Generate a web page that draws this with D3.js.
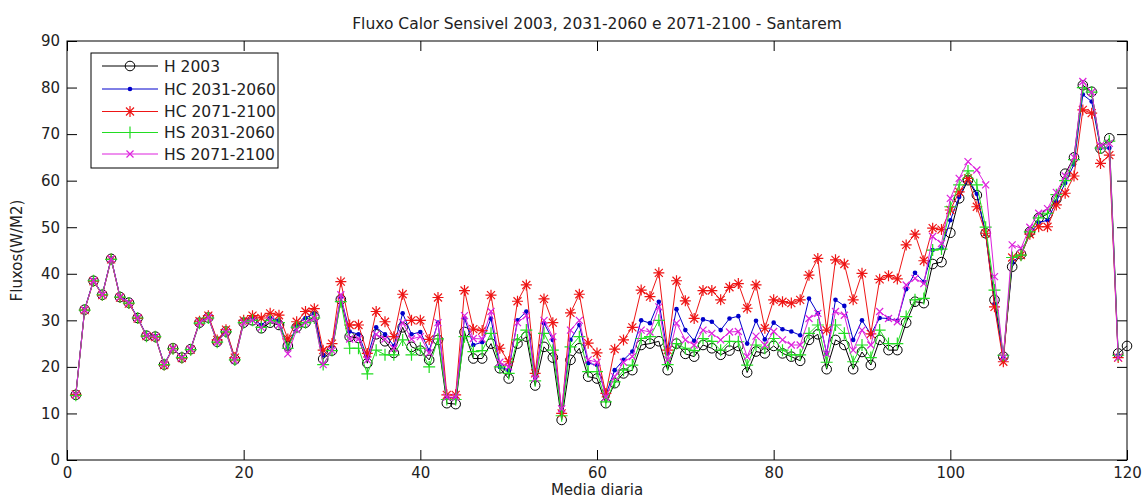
<!DOCTYPE HTML>
<html>
  <head>
    <style>
	body { margin: 0; background: #fff; }
	text { font-family: "DejaVu Sans", "Liberation Sans", Arial, sans-serif; }
	</style>
  </head>
  <body>

	<script type="text/javascript" src="https://d3js.org/d3.v7.min.js"></script>

    <script>

		// *** DATA ***

		var xTicks = [0, 20, 40, 60, 80, 100, 120];
		var yTicks = [0, 10, 20, 30, 40, 50, 60, 70, 80, 90];

		var seriesNames = ['H 2003', 'HC 2031-2060', 'HC 2071-2100', 'HS 2031-2060', 'HS 2071-2100'];

		// H 2003 (days 1..120)
		var h2003 = [
			14, 32.3, 38.5, 35.5, 43.2, 35, 33.8, 30.5, 26.7, 26.5,
			20.5, 24, 22, 23.8, 29.5, 30.6, 25.4, 27.6, 21.6, 29.5,
			30, 28.3, 29.5, 29, 24.5, 28.5, 29.5, 30.8, 21.7, 23.5,
			34.5, 26.5, 26.2, 20.8, 27, 25.5, 23, 28.5, 24.3, 23.5,
			21.5, 25.8, 12.2, 12, 27.5, 21.8, 21.8, 25, 19.7, 17.5,
			25, 26.5, 16, 24.3, 22, 8.6, 21.5, 24, 17.9, 17.5,
			12.2, 16.5, 18.6, 19.3, 24.7, 25, 25.5, 19.3, 25, 22.8,
			22.2, 24.7, 24, 22.6, 23.5, 24.5, 18.8, 23.3, 22.9, 24.5,
			22.9, 22.2, 21.3, 25.8, 27, 19.5, 25.8, 24.7, 19.5, 23.2,
			20.4, 25.8, 23.6, 23.6, 29.5, 34, 33.7, 42.1, 42.5, 48.8,
			56.2, 60.1, 56.9, 48.7, 34.4, 22.2, 41.5, 44.2, 49, 52,
			52.8, 56, 61.5, 65, 80.5, 79.1, 66.9, 69.1, 22.9, 24.5
		];

		// HC 2031-2060 (days 1..119)
		var hc2031 = [
			14.2, 32.4, 38.6, 35.6, 43.3, 35.1, 33.9, 30.6, 26.8, 26.6,
			20.6, 24.1, 22.1, 23.9, 29.7, 30.8, 25.6, 27.8, 21.8, 30,
			30.5, 29, 30.5, 30, 24, 29, 30.5, 31.5, 22.5, 24.5,
			35, 27.6, 27, 22, 28.5, 27, 24.5, 31.5, 27, 27.5,
			23.5, 29.5, 13.5, 13.3, 30.5, 24.7, 25.3, 30.4, 20, 19.3,
			30, 31.9, 17.9, 29.4, 25.8, 10.4, 25.8, 29, 20.8, 20.4,
			14, 19.3, 21.5, 23.3, 30, 29.4, 34, 22.9, 32.4, 27.9,
			25.6, 30.2, 29.7, 27.9, 30.4, 30.9, 25, 29.9, 25.9, 29.5,
			28.1, 27.6, 26.8, 34.7, 31.5, 22.9, 34.4, 33.1, 25.8, 30,
			27, 30.5, 30.4, 29.9, 36.7, 40.2, 38.3, 45.1, 45.5, 51.5,
			56.5, 60.5, 57.2, 48.5, 33.5, 22, 42.5, 44, 48.5, 51,
			51.5, 55.5, 59.5, 63.5, 78.5, 77, 67, 67, 22.5
		];

		// HC 2071-2100 (days 1..119)
		var hc2071 = [
			14.1, 32.2, 38.4, 35.4, 43.1, 34.9, 33.6, 30.4, 26.6, 26.4,
			20.4, 23.9, 21.9, 23.7, 29.8, 31, 25.8, 28, 22, 30,
			31, 30.5, 31.5, 31.1, 26, 29.7, 31.9, 32.5, 23.6, 25,
			38.3, 29, 29, 22.9, 31.9, 29.7, 26.5, 35.6, 30, 30,
			25.9, 34.9, 14, 14, 36.4, 28.1, 27.8, 35.4, 24, 21.1,
			34.1, 37.6, 18.6, 34.6, 29.5, 10, 31.6, 35.6, 25.1, 23,
			14.3, 23.8, 25.8, 28.5, 36.5, 35.1, 40.2, 23.6, 38.5, 34.2,
			30.4, 36.4, 36.4, 34.4, 37.1, 37.9, 32.6, 37.6, 28.3, 34.4,
			34, 33.7, 34.4, 39.7, 43.3, 27.9, 43, 42.1, 34.4, 40.1,
			27.1, 38.8, 39.6, 38.9, 46.2, 48.5, 42.8, 49.8, 49.5, 53.7,
			57.6, 60.5, 54.4, 48.7, 32.9, 21.1, 43.5, 44, 48.5, 50.1,
			50.1, 54.8, 57.3, 61, 75.2, 74.5, 63.7, 65.5, 22
		];

		// HS 2031-2060 (days 1..119)
		var hs2031 = [
			13.9, 32.2, 38.5, 35.5, 43.1, 35, 33.7, 30.5, 26.6, 26.5,
			20.5, 23.9, 22, 23.7, 29.4, 30.5, 25.3, 27.5, 21.5, 29.5,
			30, 28.5, 30, 29.5, 24, 28.5, 29.5, 30.5, 20.5, 23.5,
			34, 24, 24, 18.5, 23.6, 22.6, 22.6, 25.8, 22.6, 24,
			20, 26, 13, 13, 26.5, 23.3, 23.5, 27.2, 20, 18.6,
			25.8, 27.9, 17, 27.2, 23.6, 9.5, 24.3, 26.5, 19, 19,
			12.5, 16.8, 19.3, 20.4, 26.1, 26.5, 30, 20.5, 25, 24,
			23.5, 26.1, 25.5, 23.6, 25.5, 25.4, 20.4, 24.7, 24, 26.1,
			23.6, 22.6, 22.6, 27.2, 29, 21, 29, 27.2, 21.1, 24.7,
			22, 27.9, 25, 25, 30.8, 34.4, 34.7, 45.1, 45.3, 54.4,
			59.1, 62.1, 59.1, 50, 36.5, 22.5, 43.5, 44, 49, 52,
			53, 57, 60, 64.5, 80, 79, 67, 68.5, 22.5
		];

		// HS 2071-2100 (days 1..119)
		var hs2071 = [
			14, 32.3, 38.5, 35.5, 43.2, 35, 33.8, 30.5, 26.7, 26.5,
			20.5, 24, 22, 23.8, 29.5, 30.6, 25.3, 27.5, 21.4, 29.5,
			30, 28.5, 30, 29, 22.8, 28, 29.5, 30.5, 20.5, 23.5,
			35.5, 26, 26, 21.5, 27, 26, 24, 29.5, 26, 26.5,
			23, 29.5, 13.5, 13.5, 31, 26.1, 26, 31.9, 21, 20,
			29.5, 31, 17.5, 30, 26.5, 11, 27.9, 30, 21.5, 21,
			13.5, 17.9, 21, 22.2, 27.9, 27.5, 32.9, 21.5, 29.4, 25.8,
			24.7, 27.9, 27.2, 25.8, 27.5, 27.6, 22.2, 26.6, 24.7, 27.6,
			25.8, 24.7, 24.7, 30.4, 31.5, 22.8, 31.9, 31.1, 23.6, 27.9,
			24.7, 31.9, 30.4, 29.7, 37.6, 39, 37.9, 48, 46.5, 56.2,
			60.5, 64.1, 62.3, 59.1, 39.4, 22, 46.2, 45.5, 50, 53,
			54, 57.5, 61, 65, 81.3, 79, 67.5, 68, 22
		];

		// *** LAYOUT ***

		var W = 1142, H = 499;
		var margin = {left: 67, top: 41, right: 15, bottom: 39};
		var pw = W - margin.left - margin.right;	// 1060
		var ph = H - margin.top - margin.bottom;	// 419

		// marker shapes (MATLAB style)
		var markerPaths = {
			'star': 'M-5.5,0H5.5M0,-5.5V5.5M-4,-4L4,4M-4,4L4,-4',
			'plus': 'M-6,0H6M0,-6V6',
			'cross': 'M-3.5,-3.5L3.5,3.5M-3.5,3.5L3.5,-3.5'
		};

		var series = [
			{'name': seriesNames[0], 'values': h2003, 'color': '#000000', 'marker': 'circle'},
			{'name': seriesNames[1], 'values': hc2031, 'color': '#0000cc', 'marker': 'dot'},
			{'name': seriesNames[2], 'values': hc2071, 'color': '#ee1515', 'marker': 'star'},
			{'name': seriesNames[3], 'values': hs2031, 'color': '#22dd22', 'marker': 'plus'},
			{'name': seriesNames[4], 'values': hs2071, 'color': '#dd22dd', 'marker': 'cross'}
		];

		// FUNCTION: draw one marker into a selection
		function drawMarker(sel, kind, color){
			if(kind == 'circle'){
				sel.append('circle').attr('r', 4.8)
					.style('fill', 'none').style('stroke', color).style('stroke-width', 1);
			}else if(kind == 'dot'){
				sel.append('circle').attr('r', 2.3)
					.style('fill', color).style('stroke', 'none');
			}else{
				sel.append('path').attr('d', markerPaths[kind])
					.style('fill', 'none').style('stroke', color).style('stroke-width', 1.2);
			}
		}

		// *** CHART ***

		var svg = d3.select('body').append('svg')
			.attr('width', W)
			.attr('height', H);

		svg.append('rect').attr('width', W).attr('height', H).style('fill', '#fff');

		var g = svg.append('g')
			.attr('transform', 'translate(' + margin.left + ',' + margin.top + ')');

		var x = d3.scaleLinear().domain([0, 120]).range([0, pw]);
		var y = d3.scaleLinear().domain([0, 90]).range([ph, 0]);

		// axes with inward ticks
		var tickLen = 10;
		g.append('g').attr('transform', 'translate(0,' + ph + ')')
			.call(d3.axisBottom(x).tickValues(xTicks).tickSize(-tickLen).tickPadding(7));
		g.append('g')
			.call(d3.axisLeft(y).tickValues(yTicks).tickSize(-tickLen).tickPadding(7));
		g.append('g')
			.call(d3.axisTop(x).tickValues(xTicks).tickSize(-tickLen).tickFormat(''));
		g.append('g').attr('transform', 'translate(' + pw + ',0)')
			.call(d3.axisRight(y).tickValues(yTicks).tickSize(-tickLen).tickFormat(''));

		g.selectAll('.domain').remove();
		g.selectAll('.tick line').style('stroke', '#000');
		g.selectAll('.tick text')
			.style('font-size', '15px')
			.style('fill', '#222')
			.style('font-family', '"DejaVu Sans", "Liberation Sans", Arial, sans-serif');

		// box
		g.append('rect')
			.attr('width', pw).attr('height', ph)
			.style('fill', 'none').style('stroke', '#000').style('stroke-width', 1);

		// lines + markers
		var line = d3.line()
			.x(function(d, i){ return x(i + 1); })
			.y(function(d){ return y(d); });

		series.forEach(function(s){
			var sg = g.append('g');
			sg.append('path')
				.datum(s.values)
				.attr('d', line)
				.style('fill', 'none')
				.style('stroke', s.color)
				.style('stroke-width', 1);
			var m = sg.selectAll('g.mk').data(s.values)
				.enter().append('g')
				.attr('class', 'mk')
				.attr('transform', function(d, i){ return 'translate(' + x(i + 1) + ',' + y(d) + ')'; });
			drawMarker(m, s.marker, s.color);
		});

		// title and axis labels
		svg.append('text')
			.attr('x', margin.left + pw / 2).attr('y', 29)
			.attr('text-anchor', 'middle')
			.style('font-size', '15.5px')
			.style('fill', '#222')
			.text('Fluxo Calor Sensivel 2003, 2031-2060 e 2071-2100 - Santarem');

		svg.append('text')
			.attr('x', margin.left + pw / 2).attr('y', 495)
			.attr('text-anchor', 'middle')
			.style('font-size', '15px')
			.style('fill', '#222')
			.text('Media diaria');

		svg.append('text')
			.attr('transform', 'translate(22,' + (margin.top + ph / 2) + ') rotate(-90)')
			.attr('text-anchor', 'middle')
			.style('font-size', '15px')
			.style('fill', '#222')
			.text('Fluxos(W/M2)');

		// legend
		var lg = svg.append('g').attr('transform', 'translate(91,53)');
		lg.append('rect')
			.attr('width', 187).attr('height', 115)
			.style('fill', '#fff').style('stroke', '#000').style('stroke-width', 1);

		var rowY = [13, 36, 58.5, 79.5, 101];
		series.forEach(function(s, i){
			var row = lg.append('g').attr('transform', 'translate(0,' + rowY[i] + ')');
			row.append('line')
				.attr('x1', 11).attr('x2', 67)
				.style('stroke', s.color).style('stroke-width', 1);
			var mk = row.append('g').attr('transform', 'translate(39,0)');
			drawMarker(mk, s.marker, s.color);
			row.append('text')
				.attr('x', 73).attr('dy', '0.36em')
				.style('font-size', '15.5px')
				.style('fill', '#222')
				.text(s.name);
		});

	</script>
  </body>
</html>
